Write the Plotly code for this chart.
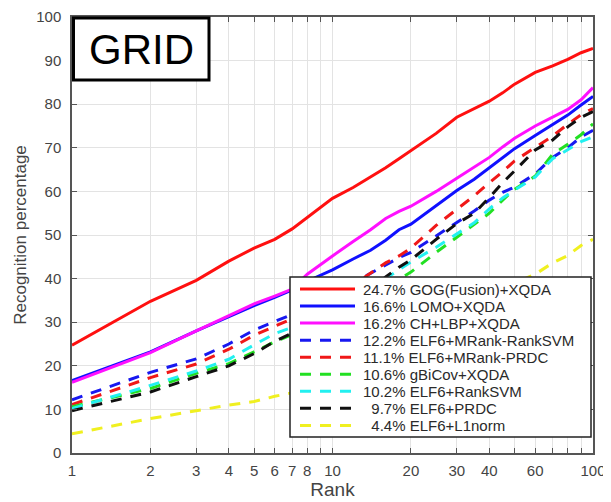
import plotly.graph_objects as go

# ---------------- data ----------------
ranks = [1, 2, 3, 4, 5, 6, 7, 8, 9, 10, 12, 14, 16, 18, 20, 25, 30, 35, 40, 45, 50, 60, 70, 80, 90, 100]

gog_fusion_xqda = [24.7, 34.8, 39.6, 44.0, 47.0, 49.0, 51.4, 54.0, 56.4, 58.4, 60.9, 63.3, 65.4, 67.5, 69.4,
                   73.3, 77.0, 79.0, 80.7, 82.6, 84.6, 87.3, 88.8, 90.3, 91.8, 92.8]
lomo_xqda = [16.6, 23.2, 28.0, 31.3, 33.8, 35.7, 37.4, 39.4, 40.7, 42.0, 44.5, 46.5, 48.8, 51.2, 52.5,
             56.8, 60.2, 62.8, 65.5, 67.8, 69.8, 72.8, 75.4, 77.5, 79.8, 81.8]
chlbp_xqda = [16.2, 23.0, 28.0, 31.4, 34.2, 36.0, 37.6, 41.0, 43.3, 45.2, 48.5, 51.2, 53.8, 55.4, 56.6,
              60.0, 63.0, 65.5, 67.8, 70.2, 72.2, 75.0, 77.0, 78.8, 81.0, 83.8]
elf6_mrank_ranksvm = [12.2, 18.5, 21.6, 25.0, 28.2, 30.1, 31.8, 33.5, 35.0, 36.5, 39.0, 41.2, 43.2, 44.8, 46.0,
                      49.8, 53.0, 55.5, 58.0, 59.8, 61.0, 64.0, 67.8, 70.0, 72.5, 74.0]
elf6_mrank_prdc = [11.1, 17.3, 20.4, 23.8, 27.0, 29.0, 30.8, 32.5, 34.0, 35.5, 38.5, 41.2, 43.6, 45.2, 47.0,
                   52.2, 55.8, 59.0, 62.0, 64.5, 67.0, 70.2, 72.7, 75.4, 77.6, 79.0]
gbicov_xqda = [10.6, 14.8, 18.3, 20.5, 23.2, 25.5, 27.2, 28.5, 30.0, 31.2, 33.5, 35.8, 37.8, 39.8, 41.5,
               46.0, 49.5, 52.5, 55.0, 58.0, 60.5, 63.5, 68.5, 70.8, 73.0, 75.5]
elf6_ranksvm = [10.2, 15.5, 18.8, 21.5, 24.8, 27.4, 28.8, 30.0, 31.5, 32.8, 35.5, 37.8, 40.0, 42.0, 43.8,
                47.2, 50.2, 52.8, 56.0, 58.5, 60.3, 63.3, 67.5, 69.5, 71.4, 72.5]
elf6_prdc = [9.7, 14.0, 17.5, 20.0, 22.8, 25.6, 27.5, 29.0, 30.5, 32.0, 35.0, 37.5, 40.4, 42.6, 44.3,
             49.0, 52.6, 55.0, 58.6, 62.0, 64.7, 69.5, 71.8, 74.8, 77.0, 78.3]
elf6_l1norm = [4.4, 7.9, 9.7, 11.0, 11.8, 13.0, 13.8, 14.8, 15.8, 16.8, 18.8, 20.8, 22.6, 24.2, 25.8,
               29.2, 32.0, 34.2, 36.0, 37.6, 39.0, 41.0, 43.6, 45.3, 47.6, 49.0]

series_values = [gog_fusion_xqda, lomo_xqda, chlbp_xqda, elf6_mrank_ranksvm, elf6_mrank_prdc,
                 gbicov_xqda, elf6_ranksvm, elf6_prdc, elf6_l1norm]
series_labels = ["24.7% GOG(Fusion)+XQDA", "16.6% LOMO+XQDA", "16.2% CH+LBP+XQDA",
                 "12.2% ELF6+MRank-RankSVM", "11.1% ELF6+MRank-PRDC", "10.6% gBiCov+XQDA",
                 "10.2% ELF6+RankSVM", "\u20079.7% ELF6+PRDC", "\u20074.4% ELF6+L1norm"]

x_tick_vals = [1, 2, 3, 4, 5, 6, 7, 8, 9, 10, 20, 30, 40, 50, 60, 70, 80, 90, 100]
x_tick_text = ["1", "2", "3", "4", "5", "6", "7", "8", "", "10", "20", "30", "40", "", "60", "", "", "", "100"]
y_tick_vals = [0, 10, 20, 30, 40, 50, 60, 70, 80, 90, 100]

title_text = "GRID"
x_title = "Rank"
y_title = "Recognition percentage"

# ---------------- styles ----------------
colors = ["#ff1010", "#1010ff", "#ff10ff", "#1818f0", "#f01818", "#22e022", "#22f0f0", "#101010", "#f0f020"]
dashes = ["solid", "solid", "solid"] + ["11px,9px"] * 6
FONT = "Liberation Sans, Arial, Helvetica, sans-serif"

# the page body has an 8px default margin, so the figure is drawn offset by 8px
OFF = 8
W, H = 611 - OFF, 502 - OFF
PL, PT, PR, PB = 72, 17, 593, 453          # wanted plot box in page pixels
L, T = PL - OFF, PT - OFF
R, B = (W + OFF) - PR, (H + OFF) - PB
PW, PH = PR - PL, PB - PT


def px(xp):
    return (xp - PL) / PW


def py(yp):
    return (PB - yp) / PH


fig = go.Figure()
for vals, lab, c, d in zip(series_values, series_labels, colors, dashes):
    fig.add_trace(go.Scatter(x=ranks, y=vals, mode="lines", name=lab,
                             line=dict(color=c, width=3, dash=d), showlegend=False))

shapes = []
annotations = []

# custom legend box (matlab-like)
lx0, lx1, ly0, ly1 = 290, 591, 277, 437
shapes.append(dict(type="rect", xref="paper", yref="paper", x0=px(lx0), x1=px(lx1), y0=py(ly1), y1=py(ly0),
                   line=dict(color="#222", width=1.5), fillcolor="white", layer="above"))
row0, step = 289, 17.05
for i, (lab, c, d) in enumerate(zip(series_labels, colors, dashes)):
    yy = py(row0 + i * step)
    shapes.append(dict(type="line", xref="paper", yref="paper", x0=px(300), x1=px(355), y0=yy, y1=yy,
                       line=dict(color=c, width=3, dash=d), layer="above"))
    annotations.append(dict(xref="paper", yref="paper", x=px(361), y=yy, xanchor="left", yanchor="middle",
                            text=lab, showarrow=False, font=dict(family=FONT, size=15, color="#2a2a2a")))

# GRID title box
shapes.append(dict(type="rect", xref="paper", yref="paper", x0=px(73.5), x1=px(209), y0=py(80), y1=py(18),
                   line=dict(color="black", width=3), fillcolor="white", layer="above"))
annotations.append(dict(xref="paper", yref="paper", x=px(141), y=py(49), xanchor="center", yanchor="middle",
                        text=title_text, showarrow=False, font=dict(family=FONT, size=42, color="black")))

fig.update_layout(
    width=W, height=H,
    margin=dict(l=L, r=R, t=T, b=B),
    paper_bgcolor="white", plot_bgcolor="white",
    shapes=shapes, annotations=annotations,
    font=dict(family=FONT, color="#444"),
    showlegend=False,
)
fig.update_xaxes(type="log", range=[0, 2], tickvals=x_tick_vals, ticktext=x_tick_text,
                 automargin=False, ticklabeloverflow="allow",
                 showgrid=True, gridcolor="#e3e3e3", gridwidth=1,
                 showline=True, linecolor="#555", linewidth=1.5, mirror="allticks",
                 ticks="inside", ticklen=5, tickcolor="#555",
                 tickfont=dict(family=FONT, size=15, color="#444"),
                 ticklabelstandoff=3,
                 title=dict(text=x_title, font=dict(family=FONT, size=19, color="#444"), standoff=5),
                 zeroline=False)
fig.update_yaxes(range=[0, 100], tickvals=y_tick_vals,
                 automargin=False, ticklabeloverflow="allow",
                 showgrid=True, gridcolor="#e3e3e3", gridwidth=1,
                 showline=True, linecolor="#555", linewidth=1.5, mirror="allticks",
                 ticks="inside", ticklen=5, tickcolor="#555",
                 tickfont=dict(family=FONT, size=15, color="#444"),
                 ticklabelstandoff=6,
                 title=dict(text=y_title, font=dict(family=FONT, size=17, color="#444"), standoff=5),
                 zeroline=False)

fig.write_html("out.html")
